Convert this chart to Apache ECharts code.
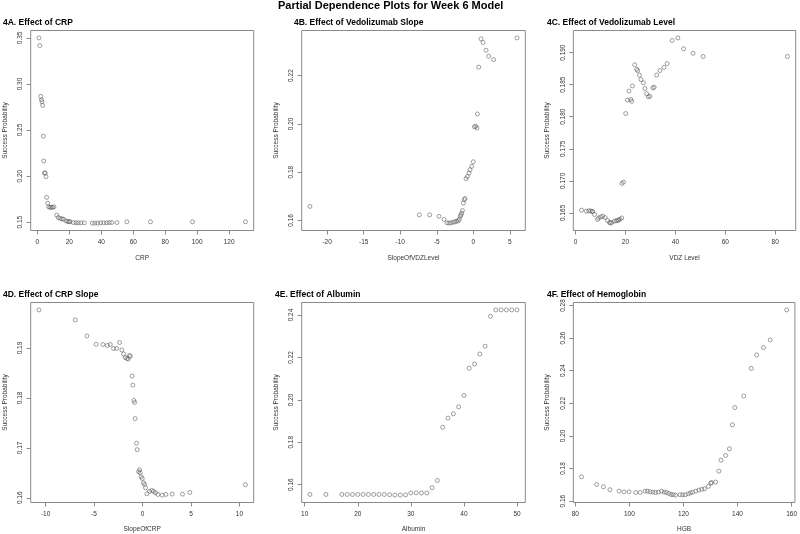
<!DOCTYPE html>
<html>
<head>
<meta charset="utf-8">
<script src="https://cdn.jsdelivr.net/npm/echarts@6/dist/echarts.min.js"></script>
<style>
html,body{margin:0;padding:0;background:#fff;}
#chart{width:800px;height:534px;}
</style>
</head>
<body>
<div id="chart"></div>
<script>
// ---------- DATA ----------
const crpX = [1.0,1.5,2.1,2.6,2.9,3.3,3.75,4.0,4.4,5.0,5.4,5.8,6.5,7.1,7.9,8.75,9.6,10.4,12.1,13.1,14.2,15.4,16.3,17.9,19.0,19.8,20.4,22.5,24.2,25.6,27.3,29.4,34.4,36.0,37.7,39.6,41.5,43.3,45.0,46.5,49.8,56.0,70.8,97.1,130.2];
const crpY = [0.350,0.3417,0.2865,0.2829,0.2807,0.2767,0.2433,0.2164,0.2034,0.2034,0.1994,0.1769,0.1706,0.1667,0.1660,0.1663,0.1660,0.1667,0.1576,0.1550,0.1540,0.1536,0.1533,0.1514,0.1507,0.1507,0.1505,0.1496,0.1493,0.1493,0.1493,0.1493,0.1490,0.1490,0.1490,0.1493,0.1493,0.1493,0.1496,0.1496,0.1496,0.1504,0.1504,0.1504,0.1504];

const vdzSlopeX = [-22.34,-7.39,-5.97,-4.70,-4.01,-3.6,-3.33,-3.06,-2.74,-2.51,-2.28,-2.05,-1.92,-1.78,-1.69,-1.6,-1.5,-1.37,-1.23,-1.14,-1.0,-0.82,-0.59,-0.46,-0.23,0,0.14,0.32,0.5,0.55,0.73,1.05,1.32,1.73,2.1,2.78,5.97];
const vdzSlopeY = [0.1658,0.1623,0.1623,0.1617,0.1604,0.1590,0.1589,0.1590,0.1593,0.1594,0.1597,0.1599,0.1605,0.1617,0.1623,0.1630,0.1641,0.1672,0.1686,0.1691,0.1773,0.1782,0.1796,0.1810,0.1824,0.1843,0.1988,0.1990,0.1983,0.2041,0.2235,0.2352,0.2337,0.2305,0.2280,0.2266,0.2356];

const vdzLevelX = [2.4,4.26,5.3,6.0,6.66,6.9,7.6,8.8,9.2,10.1,10.9,11.85,12.8,13.6,14.0,14.5,15.6,16.4,16.9,17.3,17.8,18.5,18.6,19.2,20.1,20.8,21.4,22.1,22.5,22.8,23.7,24.5,24.9,25.6,26.2,27.2,27.8,28.5,29.2,29.8,31.0,31.5,32.5,33.8,35.4,36.7,38.7,41.0,43.3,47.1,51.1,84.9];
const vdzLevelY = [0.16542,0.16526,0.1653,0.1653,0.16521,0.1652,0.16474,0.16396,0.1642,0.16437,0.16448,0.16427,0.1638,0.1635,0.1634,0.1635,0.1637,0.1638,0.1638,0.1639,0.1640,0.1642,0.1696,0.1698,0.1805,0.1826,0.1840,0.1827,0.1824,0.1848,0.1881,0.1874,0.1872,0.1865,0.1858,0.1853,0.1844,0.1836,0.1831,0.1832,0.1845,0.1846,0.1865,0.1872,0.1877,0.1883,0.1919,0.1923,0.1906,0.1899,0.1894,0.1894];

const crpSlopeX = [-10.69,-6.94,-5.74,-4.78,-4.09,-3.64,-3.33,-2.99,-2.68,-2.37,-2.13,-1.96,-1.79,-1.62,-1.48,-1.34,-1.27,-1.07,-1.0,-0.89,-0.82,-0.76,-0.62,-0.55,-0.41,-0.31,-0.24,-0.14,-0.03,0.1,0.21,0.31,0.45,0.72,0.96,1.13,1.34,1.58,2.03,2.41,3.06,4.12,4.88,10.62];
const crpSlopeY = [0.19763,0.19562,0.19241,0.19074,0.1907,0.1905,0.1907,0.1899,0.1899,0.1911,0.1896,0.1888,0.1881,0.1879,0.1878,0.1885,0.1883,0.18438,0.18257,0.17949,0.1791,0.17587,0.17092,0.16964,0.16522,0.16562,0.16502,0.1642,0.16388,0.16301,0.16268,0.16201,0.1608,0.16127,0.16147,0.16127,0.1610,0.16067,0.16054,0.16067,0.16074,0.16074,0.16107,0.16261];

const albuminX = [11,14,17,18,19,20,21,22,23,24,25,26,27,28,29,30,31,32,33,34,35,36,37,38,39,40,41,42,43,44,45,46,47,48,49,50];
const albuminY = [0.1554,0.1554,0.1554,0.1554,0.1554,0.1554,0.1554,0.1554,0.1554,0.1554,0.1554,0.1553,0.1551,0.1551,0.1552,0.1561,0.1562,0.1561,0.1561,0.1586,0.1620,0.1871,0.1914,0.1934,0.1967,0.2021,0.2149,0.2169,0.2216,0.2253,0.2394,0.2424,0.2424,0.2424,0.2424,0.2424];

const hgbX = [82.3,87.9,90.4,92.8,96.2,98.0,99.9,102.4,104.0,105.8,106.7,107.7,108.7,109.7,110.7,111.9,112.9,113.7,114.6,115.4,116.2,117.1,118.8,119.7,120.7,121.8,122.6,123.4,124.6,125.7,126.8,127.8,129.2,130.1,130.4,131.9,133.1,133.9,135.6,137.0,138.1,139.0,142.3,145.1,147.1,149.6,152.1,158.2];
const hgbY = [0.1749,0.1702,0.1688,0.1670,0.1661,0.1657,0.1657,0.1653,0.1653,0.1661,0.1661,0.1657,0.1655,0.1653,0.1655,0.1661,0.1655,0.1653,0.1647,0.1641,0.1639,0.1637,0.1639,0.1639,0.1639,0.1645,0.1651,0.1655,0.1661,0.1668,0.1672,0.1676,0.1690,0.1710,0.1714,0.1717,0.1784,0.1851,0.1880,0.1921,0.2068,0.2174,0.2244,0.2414,0.2497,0.2542,0.2589,0.2773];

// tick labels
const crpTicksX = [0,20,40,60,80,100,120];
const crpTicksY = [0.15,0.20,0.25,0.30,0.35];
const vdzSlopeTicksX = [-20,-15,-10,-5,0,5];
const vdzSlopeTicksY = [0.16,0.18,0.20,0.22];
const vdzLevelTicksX = [0,20,40,60,80];
const vdzLevelTicksY = [0.165,0.170,0.175,0.180,0.185,0.190];
const crpSlopeTicksX = [-10,-5,0,5,10];
const crpSlopeTicksY = [0.16,0.17,0.18,0.19];
const albuminTicksX = [10,20,30,40,50];
const albuminTicksY = [0.16,0.18,0.20,0.22,0.24];
const hgbTicksX = [80,100,120,140,160];
const hgbTicksY = [0.16,0.18,0.20,0.22,0.24,0.26,0.28];

const mainTitle = 'Partial Dependence Plots for Week 6 Model';
const yName = 'Success Probability';

// ---------- LAYOUT ----------
const FONT = "'Liberation Sans', Arial, Helvetica, sans-serif";
const panels = [
  {title:'4A. Effect of CRP', xName:'CRP', x:crpX, y:crpY, tx:crpTicksX, ty:crpTicksY, dy:2,
   grid:{left:30.7,top:30.5,width:223,height:200}, titlePos:{left:3,top:18}, yGap:22, xGap:24},
  {title:'4B. Effect of Vedolizumab Slope', xName:'SlopeOfVDZLevel', x:vdzSlopeX, y:vdzSlopeY, tx:vdzSlopeTicksX, ty:vdzSlopeTicksY, dy:2,
   grid:{left:301.7,top:30.5,width:223.6,height:200}, titlePos:{left:294,top:18}, yGap:22, xGap:24},
  {title:'4C. Effect of Vedolizumab Level', xName:'VDZ Level', x:vdzLevelX, y:vdzLevelY, tx:vdzLevelTicksX, ty:vdzLevelTicksY, dy:3,
   grid:{left:573.3,top:30.5,width:222.4,height:200}, titlePos:{left:547,top:18}, yGap:23, xGap:24},
  {title:'4D. Effect of CRP Slope', xName:'SlopeOfCRP', x:crpSlopeX, y:crpSlopeY, tx:crpSlopeTicksX, ty:crpSlopeTicksY, dy:2,
   grid:{left:30.7,top:302.5,width:223,height:200}, titlePos:{left:3,top:290}, yGap:22, xGap:23},
  {title:'4E. Effect of Albumin', xName:'Albumin', x:albuminX, y:albuminY, tx:albuminTicksX, ty:albuminTicksY, dy:2,
   grid:{left:301.7,top:302.5,width:223.6,height:200}, titlePos:{left:275,top:290}, yGap:22, xGap:23},
  {title:'4F. Effect of Hemoglobin', xName:'HGB', x:hgbX, y:hgbY, tx:hgbTicksX, ty:hgbTicksY, dy:2,
   grid:{left:573.3,top:302.5,width:222.4,height:200}, titlePos:{left:547,top:290}, yGap:23, xGap:23}
];

function padRange(arr){
  const mn = Math.min.apply(null, arr), mx = Math.max.apply(null, arr);
  const d = (mx - mn) * 0.04;
  return [mn - d, mx + d];
}

const BOX = '#8a8a8a';
const TXT = '#333';
const grids = [], xAxes = [], yAxes = [], series = [];
const titles = [{
  text: mainTitle, left: 278, top: 0.5, padding: 0,
  textStyle: {fontFamily: FONT, fontSize: 11, fontWeight: 'bold', color: '#000'}
}];

panels.forEach((p, i) => {
  grids.push(Object.assign({show:true, borderColor:BOX, borderWidth:1, backgroundColor:'transparent', containLabel:false}, p.grid));
  const xr = padRange(p.x), yr = padRange(p.y);
  xAxes.push({
    type:'value', gridIndex:i, min:xr[0], max:xr[1], position:'bottom',
    name:p.xName, nameLocation:'middle', nameGap:p.xGap,
    nameTextStyle:{fontFamily:FONT, fontSize:6.5, color:TXT},
    axisLine:{show:false, onZero:false},
    axisTick:{show:true, length:4, lineStyle:{color:BOX, width:1}, customValues:p.tx},
    axisLabel:{show:true, margin:8, fontFamily:FONT, fontSize:6.5, color:TXT, customValues:p.tx,
      formatter:(v)=>String(Math.round(v))},
    splitLine:{show:false}
  });
  const dec = p.dy;
  yAxes.push({
    type:'value', gridIndex:i, min:yr[0], max:yr[1], position:'left',
    name:yName, nameLocation:'middle', nameGap:p.yGap, nameRotate:90,
    nameTextStyle:{fontFamily:FONT, fontSize:6.5, color:TXT},
    axisLine:{show:false, onZero:false},
    axisTick:{show:true, length:4, lineStyle:{color:BOX, width:1}, customValues:p.ty},
    axisLabel:{show:true, margin:7, rotate:90, fontFamily:FONT, fontSize:6.5, color:TXT, customValues:p.ty,
      formatter:(v)=>v.toFixed(dec)},
    splitLine:{show:false}
  });
  series.push({
    type:'scatter', xAxisIndex:i, yAxisIndex:i,
    data:p.x.map((v, k) => [v, p.y[k]]),
    symbol:'circle', symbolSize:4,
    itemStyle:{color:'rgba(255,255,255,0)', borderColor:'#555', borderWidth:0.7},
    emphasis:{disabled:true}, silent:true
  });
  titles.push({
    text:p.title, left:p.titlePos.left, top:p.titlePos.top, padding:0,
    textStyle:{fontFamily:FONT, fontSize:8.5, fontWeight:'bold', color:'#000'}
  });
});

const chart = echarts.init(document.getElementById('chart'), null, {renderer:'canvas'});
chart.setOption({
  animation:false,
  backgroundColor:'#fff',
  title:titles,
  grid:grids,
  xAxis:xAxes,
  yAxis:yAxes,
  series:series
});
</script>
</body>
</html>
